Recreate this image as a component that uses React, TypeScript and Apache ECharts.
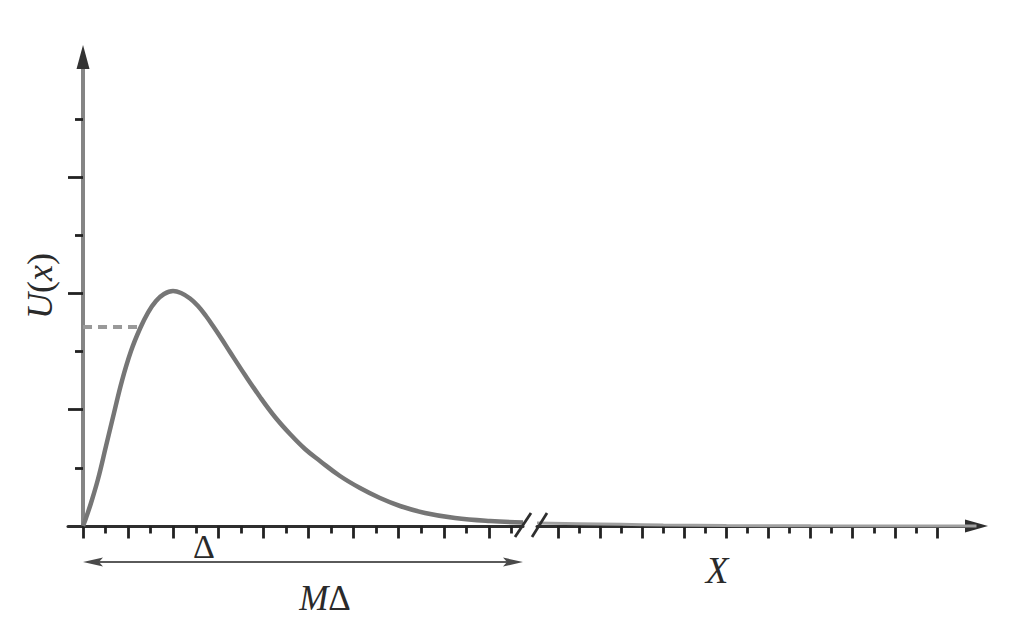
import React, { useEffect, useRef } from "react";
import * as echarts from "echarts";

// ---- data (x in major-tick units, y in y-tick units) ----
const curveLeft: [number, number][] = [
  [0, 0], [0.0665, 0.138], [0.177, 0.396], [0.333, 0.808], [0.51, 1.376],
  [0.687, 1.944], [0.865, 2.502], [1.064, 3.01], [1.264, 3.397], [1.441, 3.672],
  [1.619, 3.87], [1.796, 3.99], [1.996, 4.042], [2.173, 4.007], [2.373, 3.913],
  [2.55, 3.784], [2.727, 3.612], [2.905, 3.414], [3.082, 3.208], [3.259, 2.993],
  [3.592, 2.597], [3.925, 2.219], [4.257, 1.875], [4.59, 1.582], [4.922, 1.324],
  [5.255, 1.118], [5.698, 0.86], [6.142, 0.653], [6.585, 0.481], [7.029, 0.344],
  [7.583, 0.224], [8.248, 0.138], [9.024, 0.086], [9.756, 0.06],
];
const curveRight: [number, number][] = [
  [-0.5, 0.05], [0.5, 0.04], [1.5, 0.03], [2.5, 0.018], [4, 0.008], [6, 0.003], [9.94, 0],
];
const dashedLevel: [number, number][] = [[0, 3.423], [1.3, 3.423]];

const xLongTicksLeft = [0, 1, 2, 3, 4, 5, 6, 7, 8, 9];
const xShortTicksLeft = [0.5, 1.5, 2.5, 3.5, 4.5, 5.5, 6.5, 7.5, 8.5, 9.5];
const xLongTicksRight = [0, 1, 2, 3, 4, 5, 6, 7, 8, 9];
const xShortTicksRight = [0.5, 1.5, 2.5, 3.5, 4.5, 5.5, 6.5, 7.5, 8.5];
const yLongTicks = [2, 4, 6];
const yShortTicks = [1, 3, 5, 7];

const xLeftRange = [-0.333, 9.756];
const xRightRange = [-0.5, 9.94];
const yRange = [0, 8.067];

const SERIF = '"Liberation Serif", "DejaVu Serif", serif';
const TICK = { color: "#222", width: 2.8 };
const TEXT = "#2a2a2a";

export default function App() {
  const ref = useRef<HTMLDivElement>(null);
  useEffect(() => {
    if (!ref.current) return;
    const chart = echarts.init(ref.current, null, { renderer: "svg" });
    const hiddenParts = { axisLabel: { show: false }, splitLine: { show: false } };
    chart.setOption({
      animation: false,
      backgroundColor: "#fff",
      grid: [
        { left: 68, right: 487, top: 57, bottom: 101 },
        { left: 537, right: 33.5, top: 57, bottom: 101 },
      ],
      xAxis: [
        {
          gridIndex: 0, type: "value", position: "bottom", min: xLeftRange[0], max: xLeftRange[1],
          axisLine: { show: true, lineStyle: { color: "#2e2e2e", width: 3 } },
          axisTick: { show: true, customValues: xLongTicksLeft, length: 12.5, lineStyle: TICK },
          ...hiddenParts,
        },
        {
          gridIndex: 0, type: "value", position: "bottom", min: xLeftRange[0], max: xLeftRange[1],
          axisLine: { show: false },
          axisTick: { show: true, customValues: xShortTicksLeft, length: 7.5, lineStyle: TICK },
          ...hiddenParts,
        },
        {
          gridIndex: 1, type: "value", position: "bottom", min: xRightRange[0], max: xRightRange[1],
          axisLine: {
            show: true, symbol: ["none", "triangle"], symbolSize: [13, 23],
            lineStyle: { color: "#2e2e2e", width: 3 },
          },
          axisTick: { show: true, customValues: xLongTicksRight, length: 12.5, lineStyle: TICK },
          ...hiddenParts,
        },
        {
          gridIndex: 1, type: "value", position: "bottom", min: xRightRange[0], max: xRightRange[1],
          axisLine: { show: false },
          axisTick: { show: true, customValues: xShortTicksRight, length: 7.5, lineStyle: TICK },
          ...hiddenParts,
        },
      ],
      yAxis: [
        {
          gridIndex: 0, type: "value", position: "left", min: yRange[0], max: yRange[1],
          axisLine: { show: true, onZero: true, lineStyle: { color: "#858585", width: 4 } },
          axisTick: { show: true, customValues: yLongTicks, length: 15, lineStyle: TICK },
          ...hiddenParts,
        },
        {
          gridIndex: 0, type: "value", position: "left", min: yRange[0], max: yRange[1],
          axisLine: {
            show: true, onZero: true, symbol: ["none", "triangle"], symbolSize: [13, 24],
            lineStyle: { color: "#333", width: 0 },
          },
          axisTick: { show: true, customValues: yShortTicks, length: 8, lineStyle: TICK },
          ...hiddenParts,
        },
        {
          gridIndex: 1, type: "value", min: yRange[0], max: yRange[1], show: false,
        },
      ],
      series: [
        {
          type: "line", xAxisIndex: 0, yAxisIndex: 0, data: curveLeft, smooth: 0.4,
          symbol: "none", clip: false, lineStyle: { color: "#767676", width: 4.5 }, z: 3,
        },
        {
          type: "line", xAxisIndex: 0, yAxisIndex: 0, data: dashedLevel,
          symbol: "none", lineStyle: { color: "#999", width: 4, type: [9, 6] }, z: 3,
        },
        {
          type: "line", xAxisIndex: 2, yAxisIndex: 2, data: curveRight, smooth: true,
          symbol: "none", clip: false, lineStyle: { color: "#a0a0a0", width: 3 }, z: 3,
        },
      ],
      graphic: [
        // axis break marks
        { type: "line", shape: { x1: 515, y1: 537, x2: 531, y2: 513 }, style: { stroke: "#2e2e2e", lineWidth: 2.8 }, z: 10 },
        { type: "line", shape: { x1: 532, y1: 537, x2: 547, y2: 513 }, style: { stroke: "#2e2e2e", lineWidth: 2.8 }, z: 10 },
        // double arrow M-Delta
        { type: "line", shape: { x1: 92, y1: 562, x2: 514, y2: 562 }, style: { stroke: "#5a5a5a", lineWidth: 2.2 } },
        { type: "polygon", shape: { points: [[83, 562], [103, 557.5], [99, 562], [103, 566.5]] }, style: { fill: "#4a4a4a" } },
        { type: "polygon", shape: { points: [[523, 562], [503, 557.5], [507, 562], [503, 566.5]] }, style: { fill: "#4a4a4a" } },
        // texts
        {
          type: "text", x: 40, y: 286, rotation: Math.PI / 2,
          style: {
            text: "{i|U}({i|x})", fill: TEXT, fontFamily: SERIF, fontSize: 36,
            align: "center", verticalAlign: "middle",
            rich: { i: { fontStyle: "italic", fontFamily: SERIF, fontSize: 36, fill: TEXT } },
          },
        },
        {
          type: "text", x: 204, y: 546,
          style: { text: "Δ", fill: TEXT, fontFamily: SERIF, fontSize: 34, align: "center", verticalAlign: "middle" },
        },
        {
          type: "text", x: 325, y: 598,
          style: {
            text: "{i|M}Δ", fill: TEXT, fontFamily: SERIF, fontSize: 35,
            align: "center", verticalAlign: "middle",
            rich: { i: { fontStyle: "italic", fontFamily: SERIF, fontSize: 35, fill: TEXT } },
          },
        },
        {
          type: "text", x: 717, y: 570,
          style: { text: "X", fill: TEXT, fontFamily: SERIF, fontSize: 37, fontStyle: "italic", align: "center", verticalAlign: "middle" },
        },
      ],
    });
    return () => chart.dispose();
  }, []);
  return (
    <div
      ref={ref}
      style={{ position: "fixed", left: 0, top: 0, width: 1010, height: 627, background: "#fff" }}
    />
  );
}
